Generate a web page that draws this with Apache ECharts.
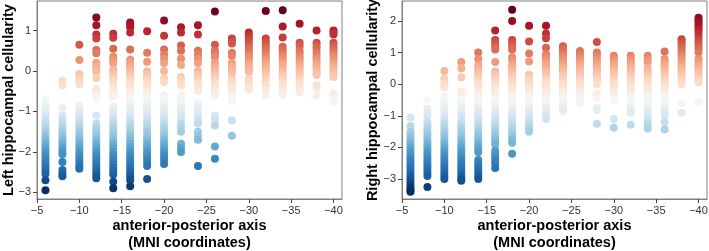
<!DOCTYPE html>
<html>
<head>
<meta charset="utf-8">
<script src="https://cdn.jsdelivr.net/npm/echarts@6/dist/echarts.min.js"></script>
<style>
  html, body { margin: 0; padding: 0; background: #fff; }
  #chart { width: 709px; height: 251px; }
</style>
</head>
<body>
<div id="chart"></div>
<script>
// MNI y-coordinate of each slice (one column of dots per slice)
const xPositions = [-6, -8, -10, -12, -14, -16, -18, -20, -22, -24, -26, -28, -30, -32, -34, -36, -38, -40]

// left hippocampus, one list of subject values per slice
const leftCellularity = [
  [-0.7, -0.78, -0.86, -0.94, -1.02, -1.1, -1.18, -1.26, -1.34, -1.42, -1.5, -1.58, -1.66, -1.74, -1.82, -1.9, -1.98, -2.06, -2.14, -2.22, -2.3, -2.38, -2.46, -2.54, -2.7, -2.95],
  [-0.25, -0.35, -0.9, -1.1, -1.18, -1.26, -1.34, -1.42, -1.5, -1.58, -1.66, -1.74, -1.82, -1.9, -1.98, -2.06, -2.25, -2.45, -2.53, -2.6],
  [0.65, 0.27, -0.08, -0.16, -0.24, -0.33, -0.85, -0.93, -1.01, -1.09, -1.17, -1.25, -1.33, -1.41, -1.49, -1.57, -1.65, -1.73, -1.81, -1.89, -1.97, -2.05, -2.13, -2.21, -2.29, -2.37, -2.42],
  [1.32, 1.13, 0.9, 0.8, 0.52, 0.44, 0.2, 0.12, 0.04, -0.02, -0.18, -0.45, -0.53, -0.61, -0.69, -1.1, -1.3, -1.38, -1.46, -1.54, -1.62, -1.7, -1.78, -1.86, -1.94, -2.02, -2.1, -2.18, -2.26, -2.34, -2.42, -2.5, -2.58, -2.65],
  [0.92, 0.82, 0.55, 0.35, 0.27, 0.19, 0.03, -0.05, -0.13, -0.21, -0.27, -0.42, -0.5, -0.58, -0.64, -0.88, -0.96, -1.04, -1.12, -1.2, -1.28, -1.36, -1.44, -1.52, -1.6, -1.68, -1.76, -1.84, -1.92, -2.0, -2.08, -2.16, -2.24, -2.32, -2.4, -2.48, -2.56, -2.74, -2.9],
  [1.2, 1.15, 1.08, 0.95, 0.53, 0.28, 0.2, 0.12, 0.04, -0.04, -0.12, -0.2, -0.28, -0.36, -0.44, -0.52, -0.6, -0.68, -0.76, -0.84, -0.92, -1.0, -1.08, -1.16, -1.24, -1.32, -1.4, -1.48, -1.56, -1.64, -1.72, -1.8, -1.88, -1.96, -2.04, -2.12, -2.2, -2.28, -2.36, -2.44, -2.52, -2.6, -2.7, -2.85],
  [0.98, 0.45, 0.23, -0.01, -0.09, -0.17, -0.25, -0.33, -0.41, -0.49, -0.57, -0.65, -0.73, -0.81, -0.89, -0.97, -1.05, -1.13, -1.21, -1.29, -1.37, -1.45, -1.53, -1.61, -1.69, -1.77, -1.85, -1.93, -2.01, -2.09, -2.17, -2.25, -2.35, -2.67],
  [1.25, 0.87, 0.53, 0.41, 0.3, 0.2, 0.0, -0.18, -0.28, -0.6, -0.68, -0.76, -0.84, -0.92, -1.0, -1.08, -1.16, -1.24, -1.32, -1.4, -1.48, -1.56, -1.64, -1.72, -1.8, -1.88, -1.96, -2.04, -2.12, -2.2, -2.3],
  [1.08, 0.95, 0.63, 0.5, 0.3, 0.15, -0.15, -0.25, -0.35, -0.6, -0.7, -0.8, -0.9, -1.0, -1.1, -1.2, -1.3, -1.4, -1.5, -1.8, -1.9, -2.0],
  [1.13, 0.9, 0.5, 0.4, 0.3, 0.2, 0.0, -0.1, -0.2, -0.3, -0.4, -0.5, -0.8, -0.9, -1.0, -1.1, -1.2, -1.3, -1.5, -1.6, -1.7, -2.35],
  [1.47, 0.65, 0.5, 0.42, 0.34, 0.2, 0.1, 0.0, -0.1, -0.2, -0.3, -0.4, -0.5, -0.6, -1.1, -1.2, -1.35, -1.87, -2.17],
  [0.8, 0.74, 0.68, 0.45, 0.37, 0.2, 0.12, 0.04, -0.05, -0.2, -0.28, -0.36, -0.44, -0.5, -0.65, -0.75, -1.22, -1.6],
  [0.95, 0.88, 0.81, 0.74, 0.67, 0.6, 0.53, 0.46, 0.39, 0.32, 0.25, 0.18, 0.11, 0.04, -0.02, -0.2, -0.28, -0.36, -0.45],
  [1.48, 0.8, 0.72, 0.65, 0.58, 0.5, 0.42, 0.34, 0.26, 0.18, 0.1, 0.02, -0.06, -0.14, -0.22, -0.35, -0.45, -0.6],
  [1.5, 1.1, 0.83, 0.6, 0.52, 0.44, 0.36, 0.28, 0.2, 0.12, 0.04, -0.04, -0.12, -0.2, -0.28, -0.36, -0.45, -0.6],
  [1.17, 0.7, 0.62, 0.5, 0.42, 0.34, 0.26, 0.18, 0.1, 0.02, -0.06, -0.14, -0.22, -0.3, -0.38, -0.46, -0.52],
  [1.0, 0.7, 0.62, 0.55, 0.45, 0.37, 0.29, 0.21, 0.13, 0.05, -0.03, -0.1, -0.35, -0.41, -0.6],
  [1.0, 0.95, 0.9, 0.7, 0.62, 0.55, 0.48, 0.4, 0.32, 0.24, 0.16, 0.08, 0.0, -0.08, -0.15, -0.55, -0.7, -0.76]
]

// right hippocampus
const rightCellularity = [
  [-1.05, -1.32, -1.5, -1.6, -1.7, -1.8, -1.9, -2.0, -2.1, -2.2, -2.3, -2.4, -2.5, -2.6, -2.7, -2.8, -2.9, -3.0, -3.1, -3.2, -3.28, -3.35, -3.4],
  [-0.5, -0.78, -0.9, -1.0, -1.2, -1.3, -1.4, -1.5, -1.6, -1.7, -1.8, -1.9, -2.0, -2.1, -2.2, -2.3, -2.4, -2.5, -2.6, -2.7, -2.8, -2.9, -3.25],
  [0.42, 0.17, 0.0, -0.1, -0.4, -0.5, -0.6, -0.7, -0.8, -0.9, -1.0, -1.1, -1.2, -1.3, -1.4, -1.5, -1.6, -1.7, -1.8, -1.9, -2.0, -2.1, -2.2, -2.3, -2.4, -2.5, -2.6, -2.7, -2.8, -2.9, -3.0],
  [0.7, 0.5, 0.22, -0.25, -0.35, -0.5, -0.6, -0.7, -0.8, -0.9, -1.0, -1.1, -1.2, -1.3, -1.4, -1.5, -1.6, -1.7, -1.8, -1.9, -2.0, -2.1, -2.2, -2.3, -2.4, -2.5, -2.6, -2.7, -2.8, -2.9, -3.0, -3.05],
  [1.0, 0.8, 0.6, 0.5, 0.4, 0.3, 0.2, 0.1, 0.0, -0.1, -0.25, -0.35, -0.45, -0.55, -0.65, -0.75, -0.85, -0.95, -1.05, -1.15, -1.25, -1.35, -1.45, -1.55, -1.65, -1.75, -1.85, -1.95, -2.05, -2.15, -2.4, -2.5, -2.6, -2.7, -2.8, -2.9, -3.0],
  [1.7, 1.4, 1.3, 1.2, 1.1, 0.7, 0.4, 0.3, 0.2, 0.1, 0.0, -0.1, -0.2, -0.3, -0.5, -0.6, -0.7, -0.8, -0.9, -1.0, -1.1, -1.2, -1.3, -1.4, -1.5, -1.6, -1.7, -1.8, -1.9, -2.1, -2.2, -2.3, -2.4, -2.5, -2.65],
  [2.35, 2.0, 1.4, 1.3, 1.2, 1.1, 0.85, 0.75, 0.6, 0.5, 0.35, 0.25, 0.15, 0.05, -0.05, -0.15, -0.25, -0.35, -0.45, -0.55, -0.65, -0.75, -0.85, -0.95, -1.05, -1.15, -1.25, -1.35, -1.45, -1.55, -1.65, -1.75, -1.85, -2.2],
  [1.85, 1.35, 0.97, 0.72, 0.3, 0.2, 0.1, 0.0, -0.1, -0.2, -0.3, -0.4, -0.5, -0.6, -0.7, -0.8, -0.9, -1.0, -1.1, -1.2, -1.3, -1.4, -1.5],
  [1.85, 1.6, 1.45, 1.15, 0.95, 0.85, 0.75, 0.65, 0.55, 0.45, 0.35, 0.25, 0.15, 0.05, -0.05, -0.15, -0.25, -0.35, -0.45, -0.55, -0.65, -0.75, -0.85, -0.95, -1.05, -1.1],
  [1.2, 1.1, 1.0, 0.9, 0.8, 0.7, 0.6, 0.5, 0.4, 0.3, 0.2, 0.1, 0.0, -0.1, -0.2, -0.3, -0.4, -0.5, -0.6, -0.7, -0.8, -0.85],
  [1.05, 0.95, 0.85, 0.75, 0.65, 0.55, 0.45, 0.35, 0.25, 0.15, 0.05, -0.05, -0.15, -0.25, -0.35, -0.45, -0.55, -0.6],
  [1.33, 1.0, 0.9, 0.8, 0.7, 0.6, 0.5, 0.4, 0.3, 0.2, 0.1, 0.0, -0.3, -0.42, -0.75, -0.82, -1.25],
  [0.9, 0.8, 0.7, 0.6, 0.5, 0.4, 0.3, 0.2, 0.1, 0.0, -0.1, -0.2, -0.3, -0.4, -0.5, -1.1, -1.38],
  [0.9, 0.8, 0.7, 0.6, 0.5, 0.4, 0.3, 0.2, 0.1, 0.0, -0.1, -0.2, -0.3, -0.4, -0.5, -0.6, -0.7, -0.8, -0.9, -1.28],
  [0.9, 0.8, 0.7, 0.5, 0.4, 0.3, 0.2, 0.1, 0.0, -0.1, -0.2, -0.3, -0.4, -0.5, -0.6, -0.7, -0.8, -0.9, -1.0, -1.1, -1.2, -1.3, -1.4],
  [1.03, 0.8, 0.7, 0.6, 0.5, 0.4, 0.3, 0.2, 0.1, 0.0, -0.1, -0.2, -0.3, -0.4, -0.5, -0.6, -0.7, -0.8, -0.9, -1.0, -1.2, -1.43],
  [1.42, 1.35, 1.28, 1.2, 1.1, 1.0, 0.9, 0.8, 0.7, 0.6, 0.5, 0.4, 0.3, 0.2, 0.1, 0.0, -0.6, -0.9],
  [2.1, 2.02, 1.94, 1.86, 1.78, 1.7, 1.6, 1.5, 1.4, 1.3, 1.2, 1.1, 1.0, 0.8, 0.7, 0.6, 0.5, 0.4, 0.3, 0.2, 0.1, 0.05, -0.57]
]

const xTicks = [-5, -10, -15, -20, -25, -30, -35, -40]
const leftYTicks = [-3, -2, -1, 0, 1]
const rightYTicks = [-3, -2, -1, 0, 1, 2]

// matplotlib RdBu_r
const rdBuR = ['#053061', '#2166ac', '#4393c3', '#92c5de', '#d1e5f0', '#f7f7f7', '#fddbc7', '#f4a582', '#d6604d', '#b2182b', '#67001f']

const toPoints = cols => xPositions.flatMap((x, i) => cols[i].map(y => [x, y]))
const leftPoints = toPoints(leftCellularity)
const rightPoints = toPoints(rightCellularity)
const yMin = pts => Math.min(...pts.map(p => p[1]))
const yMax = pts => Math.max(...pts.map(p => p[1]))

const minus = v => String(v).replace('-', '\u2212')
const tickFont = { color: '#333', fontSize: 11, fontFamily: 'Liberation Sans' }
const nameFont = { color: '#000', fontSize: 14.5, fontWeight: 'bold', fontFamily: 'Liberation Sans' }
const spine = { show: true, onZero: false, lineStyle: { color: '#808080', width: 1 } }
const tick = ticks => ({ show: true, inside: false, length: 4, lineStyle: { color: '#444', width: 1 }, customValues: ticks })

const makeX = idx => ({
  type: 'value',
  gridIndex: idx,
  min: -41,
  max: -5,
  inverse: true,
  name: 'anterior-posterior axis\n(MNI coordinates)',
  nameLocation: 'middle',
  nameGap: 18,
  nameMoveOverlap: false,
  nameTextStyle: { ...nameFont, lineHeight: 17, verticalAlign: 'top' },
  axisLine: spine,
  axisTick: tick(xTicks),
  axisLabel: { ...tickFont, margin: 6, formatter: minus, customValues: xTicks },
  splitLine: { show: false }
})

const makeY = (idx, min, max, ticks, name, gap) => ({
  type: 'value',
  gridIndex: idx,
  min: min,
  max: max,
  name: name,
  nameLocation: 'middle',
  nameGap: gap,
  nameMoveOverlap: false,
  nameTextStyle: nameFont,
  axisLine: spine,
  axisTick: tick(ticks),
  axisLabel: { ...tickFont, margin: 6, formatter: minus, customValues: ticks },
  splitLine: { show: false }
})

const chart = echarts.init(document.getElementById('chart'), null, { renderer: 'canvas' })

const gridBase = { top: 1, width: 305, height: 198, show: true, borderColor: '#808080', borderWidth: 1, backgroundColor: 'transparent', containLabel: false, outerBoundsMode: 'none' }

chart.setOption({
  animation: false,
  backgroundColor: '#fff',
  grid: [
    { ...gridBase, left: 37 },
    { ...gridBase, left: 402 }
  ],
  xAxis: [makeX(0), makeX(1)],
  yAxis: [
    makeY(0, -3.165, 1.73, leftYTicks, 'Left hippocampal cellularity', 21),
    makeY(1, -3.63, 2.63, rightYTicks, 'Right hippocampal cellularity', 22)
  ],
  visualMap: [
    { type: 'continuous', show: false, seriesIndex: 0, dimension: 1, min: yMin(leftPoints), max: yMax(leftPoints), inRange: { color: rdBuR } },
    { type: 'continuous', show: false, seriesIndex: 1, dimension: 1, min: yMin(rightPoints), max: yMax(rightPoints), inRange: { color: rdBuR } }
  ],
  series: [
    { type: 'scatter', xAxisIndex: 0, yAxisIndex: 0, symbol: 'circle', symbolSize: 8, data: leftPoints, itemStyle: { opacity: 1 } },
    { type: 'scatter', xAxisIndex: 1, yAxisIndex: 1, symbol: 'circle', symbolSize: 8, data: rightPoints, itemStyle: { opacity: 1 } }
  ]
})
</script>
</body>
</html>
